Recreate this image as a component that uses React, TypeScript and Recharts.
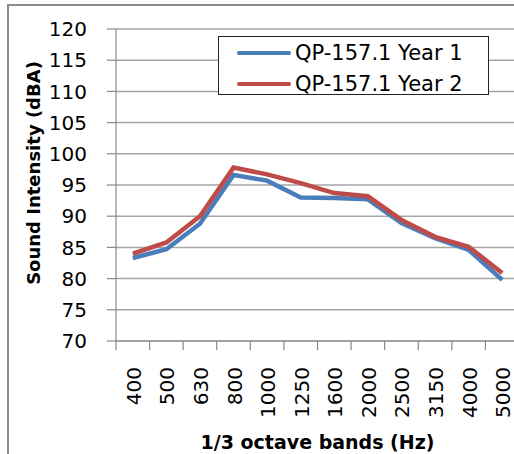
import React from 'react';
import { LineChart, Line, XAxis, YAxis, CartesianGrid, Legend, Label } from 'recharts';

const bands = ['400', '500', '630', '800', '1000', '1250', '1600', '2000', '2500', '3150', '4000', '5000'];
const year1 = [83.3, 84.7, 88.8, 96.6, 95.7, 93.0, 92.9, 92.7, 88.9, 86.5, 84.6, 79.8];
const year2 = [84.0, 85.8, 90.0, 97.8, 96.7, 95.3, 93.7, 93.2, 89.4, 86.7, 85.1, 80.9];
const yTicks = [70, 75, 80, 85, 90, 95, 100, 105, 110, 115, 120];
const seriesNames = ['QP-157.1 Year 1', 'QP-157.1 Year 2'];
const xTitle = '1/3 octave bands (Hz)';
const yTitle = 'Sound Intensity (dBA)';

const data = bands.map((b, i) => ({ band: b, y1: year1[i], y2: year2[i] }));

const FONT = '"DejaVu Sans", sans-serif';
const BLUE = '#4a7ebb';
const RED = '#be4b48';
const GRAY = '#888888';
const TICK_SIZE = 9;
const TICK_MARGIN = 17;

const XTick = (props: any) => {
  const { x, y, payload, index, width, visibleTicksCount } = props;
  const count = visibleTicksCount || bands.length;
  const band = (width || 403) / count;
  const y0 = y - TICK_SIZE - TICK_MARGIN;
  const isLast = index === count - 1;
  return (
    <g>
      <line x1={x - band / 2} x2={x - band / 2} y1={y0} y2={y0 + TICK_SIZE} stroke={GRAY} strokeWidth={1.2} />
      {isLast && (
        <line x1={x + band / 2} x2={x + band / 2} y1={y0} y2={y0 + TICK_SIZE} stroke={GRAY} strokeWidth={1.2} />
      )}
      <text
        x={x + 1}
        y={y}
        transform={`rotate(-90, ${x + 1}, ${y})`}
        textAnchor="end"
        dominantBaseline="central"
        fontFamily={FONT}
        fontSize={20}
        fill="#000"
      >
        {payload.value}
      </text>
    </g>
  );
};

const LegendBox = (props: any) => {
  const payload = props.payload || [];
  return (
    <div
      style={{
        width: 269,
        height: 57,
        border: '1.5px solid #222',
        background: '#fff',
        fontFamily: FONT,
        fontSize: 21,
        color: '#000',
        boxSizing: 'content-box',
      }}
    >
      {payload.map((p: any, i: number) => (
        <div
          key={i}
          style={{ display: 'flex', alignItems: 'center', height: 31, paddingLeft: 18 }}
        >
          <div style={{ width: 54, height: 4, borderRadius: 2, background: p.color, marginRight: 4 }} />
          <span style={{ whiteSpace: 'nowrap' }}>{p.value}</span>
        </div>
      ))}
    </div>
  );
};

export default function App() {
  return (
    <div
      style={{
        position: 'fixed',
        left: 0,
        top: 0,
        width: 514,
        height: 454,
        overflow: 'hidden',
        background: '#fff',
      }}
    >
      <div
        style={{
          position: 'absolute',
          left: 7,
          top: 4,
          width: 600,
          height: 600,
          border: '2px solid #8c8c8c',
        }}
      />
      <div style={{ position: 'absolute', left: 0, top: 0 }}>
        <LineChart
          width={540}
          height={454}
          data={data}
          margin={{ top: 29, right: 21, left: 0, bottom: 0 }}
          style={{ fontFamily: FONT }}
        >
          <CartesianGrid
            vertical={false}
            stroke="#a6a6a6"
            strokeWidth={1.5}
          />
          <XAxis
            dataKey="band"
            scale="band"
            interval={0}
            tickLine={false}
            tickSize={TICK_SIZE}
            tickMargin={TICK_MARGIN}
            axisLine={{ stroke: GRAY, strokeWidth: 1.2 }}
            tick={<XTick />}
            height={113}
          >
            <Label
              content={(p: any) => {
                const vb = p.viewBox;
                return (
                  <text
                    x={vb.x + vb.width / 2}
                    y={vb.y + 108}
                    textAnchor="middle"
                    fontFamily={FONT}
                    fontWeight="bold"
                    fontSize={19}
                    fill="#000"
                  >
                    {xTitle}
                  </text>
                );
              }}
            />
          </XAxis>
          <YAxis
            domain={[70, 120]}
            ticks={yTicks}
            interval={0}
            width={116}
            tickSize={9}
            tickMargin={20}
            tickLine={{ stroke: GRAY, strokeWidth: 1.2 }}
            axisLine={{ stroke: GRAY, strokeWidth: 1.2 }}
            tick={{ fontFamily: FONT, fontSize: 20, fill: '#000' }}
          >
            <Label
              content={(p: any) => {
                const vb = p.viewBox;
                const cx = vb.x + 33;
                const cy = vb.y + vb.height / 2 - 12;
                return (
                  <text
                    x={cx}
                    y={cy}
                    transform={`rotate(-90, ${cx}, ${cy})`}
                    textAnchor="middle"
                    dominantBaseline="central"
                    fontFamily={FONT}
                    fontWeight="bold"
                    fontSize={18}
                    fill="#000"
                  >
                    {yTitle}
                  </text>
                );
              }}
            />
          </YAxis>
          <Legend
            layout="vertical"
            align="center"
            verticalAlign="middle"
            content={<LegendBox />}
            wrapperStyle={{ position: 'absolute', left: 218, top: 36, width: 'auto', height: 'auto' }}
          />
          <Line
            type="linear"
            dataKey="y1"
            name={seriesNames[0]}
            stroke={BLUE}
            strokeWidth={4.5}
            dot={false}
            activeDot={false}
            isAnimationActive={false}
          />
          <Line
            type="linear"
            dataKey="y2"
            name={seriesNames[1]}
            stroke={RED}
            strokeWidth={4.5}
            dot={false}
            activeDot={false}
            isAnimationActive={false}
          />
        </LineChart>
      </div>
    </div>
  );
}
